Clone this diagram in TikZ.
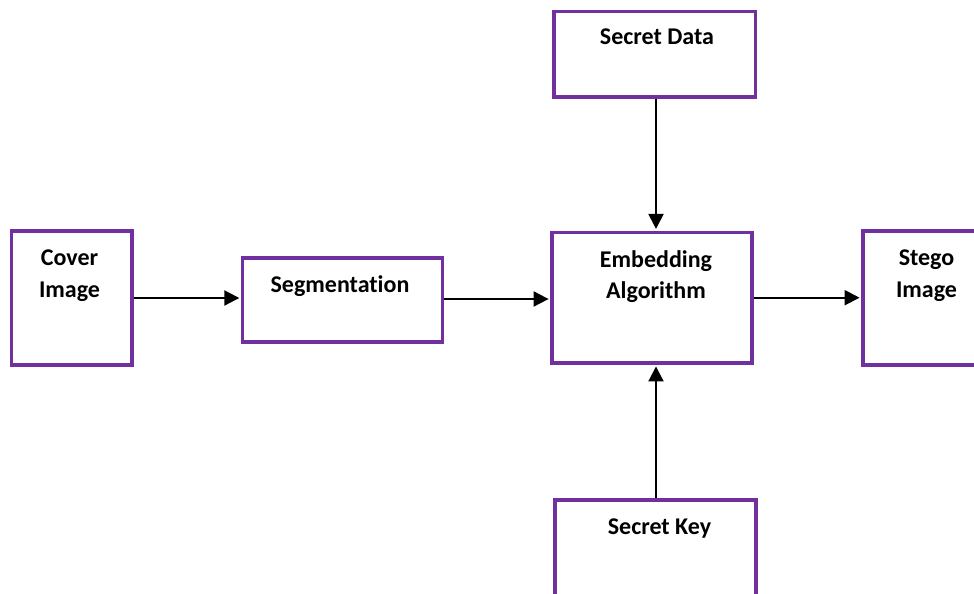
\documentclass[tikz,border=0pt]{standalone}
\usepackage{fontspec}
\setmainfont[Ligatures=NoCommon]{Carlito}
\usetikzlibrary{arrows.meta}
\definecolor{boxpurple}{HTML}{7030A0}
\begin{document}
\begin{tikzpicture}[x=1pt,y=-1pt,
  blockbox/.style={draw=boxpurple, line width=3.4pt, fill=white, rectangle,
    inner sep=0pt, minimum width=#1},
  lbl/.style={font=\fontsize{24}{31}\selectfont\bfseries, anchor=base,
    inner sep=0pt, text=black},
  flow/.style={line width=2pt, -{Triangle[length=15pt,width=15pt]},
    shorten >=1.7pt}]
\useasboundingbox (0,0) rectangle (974,594);

% blocks
\node[blockbox=120.5pt, minimum height=134pt] (cover) at (71.75,298) {};
\node[blockbox=200pt,   minimum height=84pt]  (seg)   at (342.7,300) {};
\node[blockbox=200pt,   minimum height=130.7pt] (emb) at (652,297.7) {};
\node[blockbox=137pt,   minimum height=134pt] (stego) at (931.5,298) {};
\node[blockbox=201.5pt, minimum height=85.3pt] (data) at (654.75,54.35) {};
\node[blockbox=201pt,   minimum height=120pt] (key)   at (655.5,560) {};

% labels
\node[lbl] at (69.5,265) {Cover};
\node[lbl] at (69.5,297) {Image};
\node[lbl] at (340,292) {Segmentation};
\node[lbl] at (656,267.3) {Embedding};
\node[lbl] at (656,298.3) {Algorithm};
\node[lbl] at (926.5,265) {Stego};
\node[lbl] at (926.5,297.5) {Image};
\node[lbl] at (657,45) {Secret Data};
\node[lbl] at (659.5,534) {Secret Key};

% connectors
\coordinate (vx) at (656,0);
\draw[flow] (cover.east) -- (cover.east -| seg.west);
\draw[flow] (seg.east |- 0,299) -- (emb.west |- 0,299);
\draw[flow] (emb.east) -- (emb.east -| stego.west);
\draw[flow] (data.south -| vx) -- (emb.north -| vx);
\draw[flow] (key.north -| vx) -- (emb.south -| vx);
\end{tikzpicture}
\end{document}
